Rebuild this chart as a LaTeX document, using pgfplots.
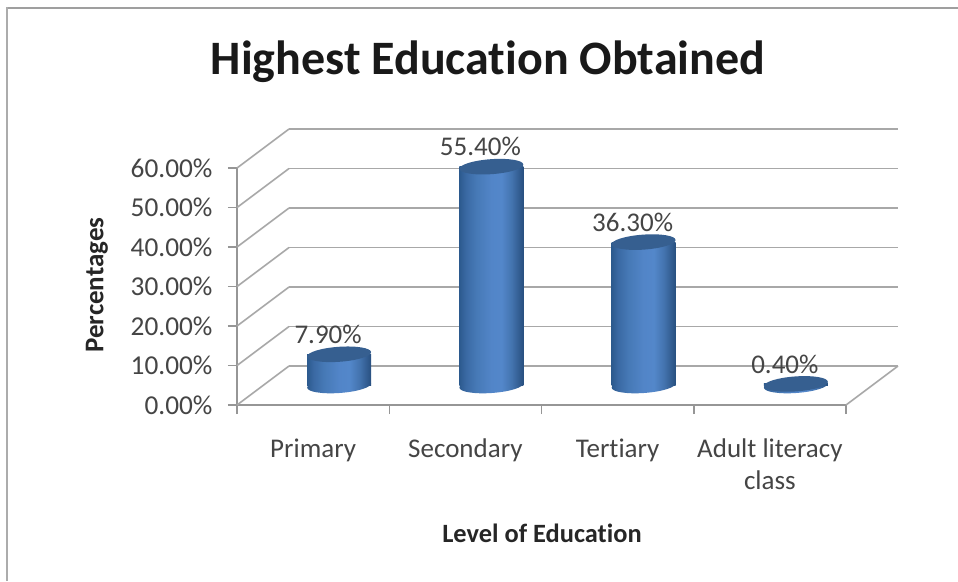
\documentclass[border=0pt]{standalone}
\usepackage{fontspec}
\setmainfont[Ligatures=NoCommon]{Carlito}
\usepackage{pgfplots}
\usepackage{pgfplotstable}
\pgfplotsset{compat=1.18}
\usetikzlibrary{shapes.geometric}

\definecolor{gridgray}{HTML}{A8A8A8}
\definecolor{axisgray}{HTML}{969696}
\definecolor{ticktext}{HTML}{454545}
\definecolor{capblue}{HTML}{365F90}
\definecolor{wallA}{HTML}{2C5A8E}
\definecolor{wallB}{HTML}{3A69A3}
\definecolor{wallC}{HTML}{4679B6}
\definecolor{wallD}{HTML}{5285C8}
\definecolor{wallE}{HTML}{5387CA}
\definecolor{wallF}{HTML}{4373AE}
\definecolor{wallG}{HTML}{345F94}
\definecolor{wallH}{HTML}{28507F}

% Horizontal shading of the cylinder wall; the visible part spans 25bp to 75bp.
\pgfdeclarehorizontalshading{cylwall}{100bp}{
  color(0bp)=(wallA); color(25bp)=(wallA); color(30bp)=(wallB); color(38bp)=(wallC);
  color(50bp)=(wallD); color(58bp)=(wallE); color(66bp)=(wallF); color(71bp)=(wallG);
  color(75bp)=(wallH); color(100bp)=(wallH)}

% Share of respondents by level of education (percent)
\pgfplotstableread{
x  share base
0  7.9   0
1  55.4  0
2  36.3  0
3  0.4   0
}\educationdata

\pgfplotsset{
  cylinder plane/.style={
    anchor=south west, at={(263pt,195.5pt)},
    scale only axis, width=609pt, height=237pt,
    clip=false,
    xmin=-0.5, xmax=3.5, ymin=0, ymax=60,
    axis line style={draw=none}, tick style={draw=none},
    xtick=\empty, ytick=\empty,
  },
  cylinder wall/.style={ybar, bar width=64pt, bar shift=0pt, draw=none, shading=cylwall},
}
\tikzset{
  cylinder disc/.style={
    shape=ellipse, anchor=center, inner sep=0pt,
    minimum width=64pt, minimum height=15pt, rotate=4, draw=none,
  },
}

\begin{document}
\begin{tikzpicture}[x=1pt,y=1pt]
\useasboundingbox (0,0) rectangle (958,581);
\fill[white] (0,0) rectangle (958,581);

% Frame of the chart area
\draw[gray!75,line width=1.6pt] (6,573.2) -- (958,573.2);
\draw[gray!65,line width=2.4pt] (7,0) -- (7,573.5);

% Back wall: gridlines only
\begin{axis}[
  anchor=south west, at={(289pt,215pt)},
  scale only axis, width=609pt, height=237pt,
  xmin=-0.5, xmax=3.5, ymin=0, ymax=60,
  axis line style={draw=none}, tick style={draw=none},
  xtick=\empty, ytick={0,10,...,60}, yticklabels={},
  ymajorgrids, grid style={gridgray,line width=1.9pt},
]
\end{axis}

% Front plane: axes, tick labels, titles and the depth lines
\begin{axis}[
  anchor=south west, at={(237pt,176pt)},
  scale only axis, width=609pt, height=237pt,
  clip=false,
  xmin=-0.5, xmax=3.5, ymin=0, ymax=60,
  axis x line*=bottom, axis y line*=left,
  axis line style={axisgray,line width=1.8pt,-},
  tick style={axisgray,line width=1.5pt},
  tick align=outside, major tick length=9pt,
  xtick={-0.5,0.5,1.5,2.5,3.5},
  x tick label as interval,
  xticklabels={Primary,Secondary,Tertiary,{Adult literacy\\class}},
  xticklabel style={align=center,text=ticktext,font=\fontsize{27}{32}\selectfont,yshift=-21pt,
    text depth=0pt},
  ytick={0,10,...,60},
  yticklabel={\pgfmathprintnumber[fixed,fixed zerofill,precision=2,assume math mode=true]{\tick}\%},
  yticklabel style={text=ticktext,font=\fontsize{27.3}{30}\selectfont,xshift=-12pt},
  title={Highest Education Obtained},
  title style={at={(axis description cs:0.412,1.422)},anchor=center,
    font=\fontsize{48}{56}\selectfont\bfseries,text=black!90},
  xlabel={Level of Education},
  xlabel style={at={(axis description cs:0.5008,-0.54)},anchor=center,
    font=\fontsize{26.4}{30}\selectfont\bfseries,text=black!85},
  ylabel={Percentages},
  ylabel style={at={(axis description cs:-0.23,0.506)},anchor=center,rotate=0,
    font=\fontsize{27}{30}\selectfont\bfseries,text=black!85},
]
\foreach \v in {0,10,...,60}{
  \edef\temp{\noexpand\draw[gridgray,line width=1.6pt] (axis cs:-0.5,\v) -- ++(52pt,39pt);}
  \temp
}
\draw[gridgray,line width=1.6pt] (axis cs:3.5,0) -- ++(52pt,39pt);
\end{axis}

% Cylinder feet, half way along the depth of the floor
\begin{axis}[cylinder plane]
\addplot[only marks, mark=none, point meta=y,
  nodes near coords={},
  every node near coord/.style={cylinder disc, shading=cylwall},
] table[x=x,y=base] {\educationdata};
\end{axis}

% Cylinder walls (one plot per bar so each gets its own shading), caps and value labels
\begin{axis}[cylinder plane]
\addplot[cylinder wall] coordinates {(0,7.9)};
\addplot[cylinder wall] coordinates {(1,55.4)};
\addplot[cylinder wall] coordinates {(2,36.3)};
\addplot[cylinder wall] coordinates {(3,0.4)};
\addplot[only marks, mark=none, point meta=y,
  nodes near coords={},
  every node near coord/.style={cylinder disc, fill=capblue},
] table[x=x,y=share] {\educationdata};
\addplot[only marks, mark=none, point meta=y,
  nodes near coords={\pgfmathprintnumber[fixed,fixed zerofill,precision=2,assume math mode=true]{\pgfplotspointmeta}\%},
  every node near coord/.style={anchor=center, inner sep=0pt, xshift=-11pt, yshift=20pt,
    text=ticktext, font=\fontsize{27}{30}\selectfont},
] table[x=x,y=share] {\educationdata};
\end{axis}
\end{tikzpicture}
\end{document}
